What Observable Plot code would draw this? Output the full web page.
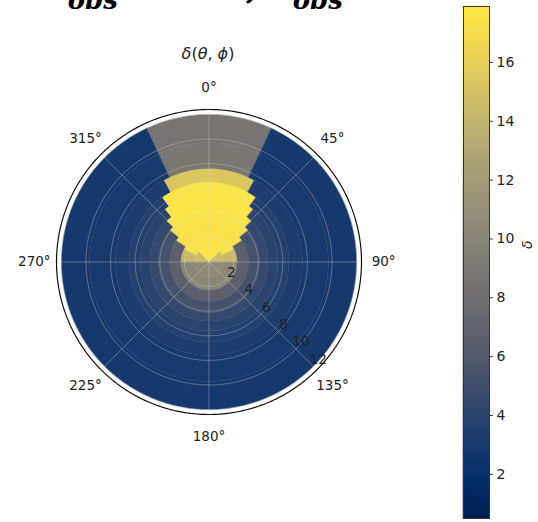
<!DOCTYPE html>
<html><head><meta charset="utf-8">
<script src="https://cdn.jsdelivr.net/npm/d3@7"></script>
<script src="https://cdn.jsdelivr.net/npm/@observablehq/plot@0.6"></script>
<style>
html,body{margin:0;padding:0;background:#fff;}
#wrap{position:relative;width:538px;height:522px;overflow:hidden;font-family:"DejaVu Sans",sans-serif;background:#fff;}
#polar{position:absolute;left:0;top:0;z-index:1;}
#cbar{position:absolute;left:440px;top:0;z-index:1;}
.eq{position:absolute;z-index:2;font-family:"DejaVu Serif",serif;font-weight:bold;font-style:italic;font-size:34px;white-space:nowrap;color:#000;line-height:34px;}
.eq sub{font-size:26px;vertical-align:baseline;position:relative;top:11px;}
#ptitle{position:absolute;z-index:2;left:108px;width:200px;top:44px;text-align:center;font-family:"DejaVu Sans",sans-serif;font-size:16px;color:#222;}
#ptitle i{font-style:italic;}
</style></head><body>
<div id="wrap">
  <div class="eq" id="eq1" style="left:45px;top:-31px">θ<sub>obs</sub> = 4.0°,</div>
  <div class="eq" id="eq2" style="left:270px;top:-31px">δ<sub>obs</sub> = 17.7</div>
  <div id="ptitle"><i>δ</i>(<i>θ</i>, <i>ϕ</i>)</div>
  <div id="polar"></div>
  <div id="cbar"></div>
</div>
<script>
// ---- data ----
// radial bin edges (θ, degrees)
const thetaEdges = [0, 1.2, 2.3, 3.2, 4.1, 4.8, 5.6, 6.5, 7.6, 9.7, 12];
// per ring: φ edges on the half-plane 0..180 (mirrored to -180..0)
const ringPhiEdges = [
  [0, 45, 90, 180],
  [0, 63, 90, 180],
  [0, 57, 180],
  [0, 51, 180],
  [0, 46, 180],
  [0, 40, 180],
  [0, 36, 180],
  [0, 29, 180],
  [0, 25, 180],
  [0, 25, 180]
];
// per ring: δ value of each φ segment
const ringValues = [
  [17.6, 14.6, 10.4],
  [17.4, 14.3, 10.2],
  [17.3, 6.6],
  [17.4, 5.3],
  [17.5, 4.5],
  [17.6, 4.0],
  [17.6, 3.6],
  [15.4, 3.3],
  [8.8, 3.0],
  [8.5, 2.9]
];
const rTicks = [2, 4, 6, 8, 10, 12];
const angleTicks = [0, 45, 90, 135, 180, 225, 270, 315];
const cbTicks = [2, 4, 6, 8, 10, 12, 14, 16];
const colorDomain = [0.5, 17.9];
const rMax = 12.4;

// ---- geometry helpers ----
const lon = phi => 180 - phi;   // φ clockwise from north
const lat = th => 90 - th;      // θ as colatitude

function cell(t0, t1, p0, p1, v) {
  const n = Math.max(2, Math.ceil(Math.abs(p1 - p0)));
  const ps = d3.range(n + 1).map(i => p0 + (p1 - p0) * i / n);
  const ring = ps.map(p => [lon(p), lat(t1)]);
  if (t0 === 0) ring.push([lon(p1), 90 - 1e-6]);
  else ps.slice().reverse().forEach(p => ring.push([lon(p), lat(t0)]));
  ring.push(ring[0]);
  const f = {type: "Feature", properties: {value: v}, geometry: {type: "Polygon", coordinates: [ring]}};
  if (d3.geoArea(f) > 2 * Math.PI) ring.reverse();
  return f;
}

const cells = [];
ringValues.forEach((vals, i) => {
  const edges = ringPhiEdges[i];
  vals.forEach((v, j) => {
    const a = edges[j], b = edges[j + 1];
    cells.push(cell(thetaEdges[i], thetaEdges[i + 1], a, b, v));
    cells.push(cell(thetaEdges[i], thetaEdges[i + 1], -b, -a, v));
  });
});

const circle = r => d3.geoCircle().center([0, 90]).radius(r).precision(0.5)();
const frameCircle = circle(rMax);
const gridCircles = rTicks.map(r => ({type: "Feature", properties: {}, geometry: circle(r)}));
const spokes = angleTicks.map(a => ({type: "LineString", coordinates: [[lon(a), 90], [lon(a), lat(rMax)]]}));

const color = {type: "linear", scheme: "cividis", domain: colorDomain};

const polar = Plot.plot({
  width: 440, height: 522,
  marginLeft: 56, marginRight: 79, marginTop: 109, marginBottom: 108,
  projection: {type: "azimuthal-equidistant", rotate: [0, -90], domain: frameCircle, clip: false},
  color,
  style: {fontFamily: "DejaVu Sans", background: "transparent"},
  marks: [
    Plot.geo(cells, {fill: d => d.properties.value, stroke: d => d.properties.value, strokeWidth: 0.4}),
    Plot.geo(gridCircles, {fill: "none", stroke: "#d8d8d8", strokeOpacity: 0.45, strokeWidth: 0.8}),
    Plot.geo(spokes, {stroke: "#d8d8d8", strokeOpacity: 0.45, strokeWidth: 0.8}),
    Plot.geo([frameCircle], {fill: "none", stroke: "#111", strokeWidth: 1.2}),
    Plot.text(rTicks, {x: () => lon(135), y: r => lat(r), text: d => String(d), dx: 5, dy: -7, fontSize: 13.5, fill: "#222"}),
    Plot.text(angleTicks, {x: a => lon(a), y: () => lat(14.2), text: a => a + "°", fontSize: 13.5, fill: "#222"})
  ]
});
document.getElementById("polar").appendChild(polar);

// colorbar
const nSlices = 256;
const slices = d3.range(nSlices).map(i => {
  const y1 = colorDomain[0] + (colorDomain[1] - colorDomain[0]) * i / nSlices;
  const y2 = colorDomain[0] + (colorDomain[1] - colorDomain[0]) * (i + 1) / nSlices;
  return {y1, y2, v: (y1 + y2) / 2};
});
const cbar = Plot.plot({
  width: 98, height: 522,
  marginLeft: 23, marginRight: 49, marginTop: 6, marginBottom: 4,
  x: {domain: [0, 1], axis: null},
  y: {domain: colorDomain, axis: null},
  color,
  style: {fontFamily: "DejaVu Sans", background: "transparent", overflow: "visible"},
  marks: [
    Plot.rect(slices, {x1: () => 0, x2: () => 1, y1: "y1", y2: "y2", fill: "v", stroke: "v", strokeWidth: 0.5}),
    Plot.frame({stroke: "#333", strokeWidth: 1}),
    Plot.ruleY(cbTicks, {y: d => d, x1: () => 1, x2: () => 1.15, stroke: "#222", strokeWidth: 0.9}),
    Plot.text(cbTicks, {y: d => d, x: () => 1, dx: 7, textAnchor: "start", text: d => String(d), fontSize: 14, fill: "#222"}),
    Plot.text(["δ"], {frameAnchor: "right", dx: 38, dy: -22, rotate: -90, fontSize: 14, fontStyle: "italic", fill: "#222"})
  ]
});
document.getElementById("cbar").appendChild(cbar);
</script>
</body></html>
